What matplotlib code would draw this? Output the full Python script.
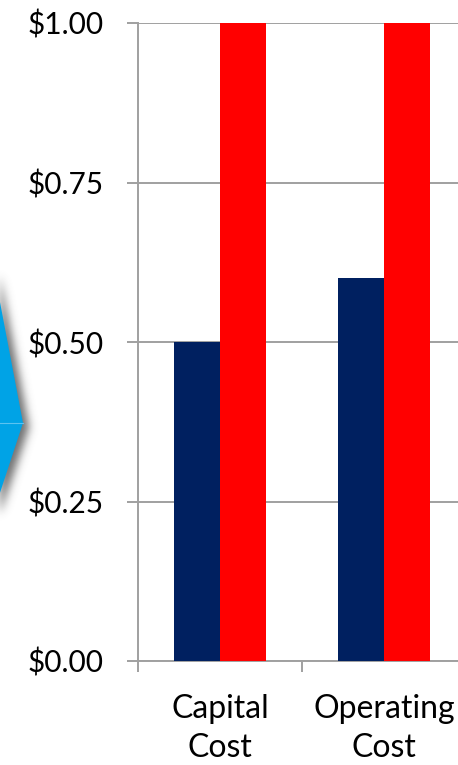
import numpy as np
import matplotlib
matplotlib.use("Agg")
import matplotlib.pyplot as plt
from matplotlib.patches import Polygon
from matplotlib.path import Path
from matplotlib.ticker import FixedLocator, FuncFormatter

plt.rcParams['font.family'] = ['Lato', 'DejaVu Sans']

categories = ["Capital\nCost", "Operating\nCost"]
new_costs = [0.50, 0.60]
baseline_costs = [1.00, 1.00]
y_ticks = [0.00, 0.25, 0.50, 0.75, 1.00]

NAVY = "#002060"
RED = "#FF0000"
GRID = "#A0A0A0"
ARROW = "#00A3E6"

W, H = 458, 765
fig = plt.figure(figsize=(W / 100, H / 100), dpi=100)

# chart axes (right edge runs past the figure border)
left, right, top, bottom = 138, 466, 23, 661
ax = fig.add_axes([left / W, 1 - bottom / H, (right - left) / W, (bottom - top) / H])

x = np.arange(len(categories))
bw = 0.28
ax.bar(x - bw / 2, new_costs, bw, color=NAVY, zorder=3)
ax.bar(x + bw / 2, baseline_costs, bw, color=RED, zorder=3)

ax.set_xlim(-0.5, len(categories) - 0.5)
ax.set_ylim(0, 1.0)
ax.set_axisbelow(True)

ax.yaxis.set_major_locator(FixedLocator(y_ticks))
ax.yaxis.set_major_formatter(FuncFormatter(lambda v, p: f"${v:.2f}"))
ax.grid(axis='y', color=GRID, linewidth=1.4)
ax.tick_params(axis='y', length=8, width=1.4, color=GRID, pad=17, labelsize=21.5)

# category boundaries as major ticks, labels on minor ticks at centres
ax.xaxis.set_major_locator(FixedLocator(np.arange(len(categories) + 1) - 0.5))
ax.xaxis.set_major_formatter(FuncFormatter(lambda v, p: ""))
ax.xaxis.set_minor_locator(FixedLocator(x))
ax.set_xticklabels(categories, minor=True)
ax.tick_params(axis='x', which='major', length=8, width=1.4, color=GRID)
ax.tick_params(axis='x', which='minor', length=0, pad=24, labelsize=23)
for lab in ax.get_xticklabels(minor=True):
    lab.set_linespacing(1.38)

for s in ['top', 'right']:
    ax.spines[s].set_visible(False)
for s in ['left', 'bottom']:
    ax.spines[s].set_color(GRID)
    ax.spines[s].set_linewidth(1.4)

# overlay in pixel coordinates for the arrow on the left edge
ov = fig.add_axes([0, 0, 1, 1], zorder=-1)
ov.set_xlim(0, W)
ov.set_ylim(H, 0)
ov.axis('off')

arrow_pts = np.array([(-40, 92), (23, 423), (-40, 614)])

# soft drop shadow
yy, xx = np.mgrid[0:H, 0:80]
pts = np.column_stack([xx.ravel() + 0.5, yy.ravel() + 0.5])
mask = Path(arrow_pts + np.array([6, 4])).contains_points(pts).reshape(H, 80).astype(float)
k = np.exp(-0.5 * (np.arange(-15, 16) / 4.5) ** 2)
k /= k.sum()
blur = np.apply_along_axis(lambda r: np.convolve(r, k, mode='same'), 1, mask)
blur = np.apply_along_axis(lambda c: np.convolve(c, k, mode='same'), 0, blur)
shadow = np.zeros((H, 80, 4))
shadow[..., :3] = 0.3
shadow[..., 3] = 0.8 * blur
ov.imshow(shadow, extent=(0, 80, H, 0), interpolation='bilinear', aspect='auto')

ov.add_patch(Polygon(arrow_pts, closed=True, facecolor=ARROW, edgecolor='none'))
ov.plot([0, 23], [423, 423], color="#5CC3F0", linewidth=0.8)
ov.set_xlim(0, W)
ov.set_ylim(H, 0)

fig.savefig("out.png", dpi=100)
